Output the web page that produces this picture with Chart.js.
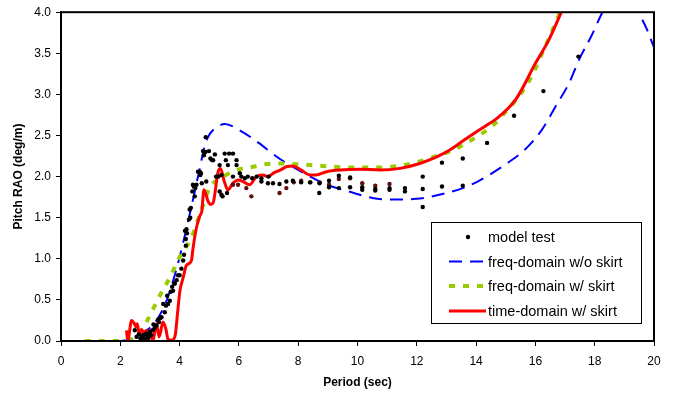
<!DOCTYPE html>
<html><head><meta charset="utf-8">
<script src="https://cdn.jsdelivr.net/npm/chart.js@4.4.1/dist/chart.umd.min.js"></script>
<style>html,body{margin:0;padding:0;background:#fff;}#wrap{width:683px;height:402px;position:relative;}</style>
</head><body><div id="wrap"><canvas id="c" width="683" height="402"></canvas></div>
<script>
// ---- data ----
const modelT = [2.49,2.55,2.62,2.68,2.72,2.77,2.8,2.83,2.87,2.91,2.95,3.0,3.04,3.09,3.12,3.16,3.22,3.27,3.31,3.35,3.39,3.45,3.5,3.54,3.58,3.61,3.67,3.7,3.75,3.78,3.82,3.84,3.9,3.95,4.0,4.06,4.12,4.15,4.18,4.21,4.21,4.23,4.25,4.32,4.34,4.36,4.38,4.43,4.45,4.48,4.51,4.53,4.57,4.62,4.68,4.7,4.72,4.75,4.79,4.82,4.87,4.88,4.9,4.99,5.04,5.1,5.13,5.19,5.23,5.31,5.35,5.35,5.41,5.41,5.45,5.52,5.56,5.6,5.63,5.67,5.8,5.8,5.92,5.92,6.03,6.08,6.2,6.3,6.45,6.6,6.76,6.76,6.98,7.0,7.15,7.37,7.6,7.82,8.1,8.4,8.71,8.72,9.04,9.04,9.37,9.37,9.75,9.75,10.16,10.16,10.6,10.6,11.08,11.08,11.6,11.6,12.2,12.2,12.2,12.85,12.85,13.55,13.55,14.37,15.28,16.27,17.45];
const modelR = [0.13,0.05,0.08,0.03,0.05,0.07,0.02,0.03,0.09,0.07,0.04,0.11,0.07,0.13,0.2,0.16,0.19,0.26,0.23,0.28,0.29,0.45,0.35,0.43,0.55,0.45,0.49,0.6,0.66,0.61,0.7,0.7,0.74,0.8,0.8,0.88,0.98,1.05,1.34,1.16,1.24,1.36,1.31,1.48,1.6,1.5,1.62,1.82,1.9,1.88,1.76,1.86,1.9,2.06,2.06,2.02,2.04,1.92,2.31,2.26,2.3,2.48,1.94,2.31,2.22,2.2,2.2,2.27,2.0,2.0,2.14,1.82,2.02,1.78,1.76,2.28,2.2,1.8,2.14,2.28,2.28,2.0,2.2,2.14,2.04,2.0,1.98,2.0,1.98,2.0,1.98,1.94,1.92,2.0,1.92,1.91,1.94,1.95,1.93,1.93,1.8,1.92,1.95,1.87,2.01,1.86,1.99,1.87,1.87,1.84,1.85,1.83,1.86,1.84,1.86,1.82,2.0,1.85,1.63,2.17,1.88,2.22,1.89,2.41,2.74,3.04,3.46];
const model2T = [5.8,5.97,6.25,6.42,7.37,7.6,7.85,8.1,8.41,8.72,9.04,9.37,9.75,10.16,10.6,11.08];
const model2R = [1.9,1.9,1.86,1.76,1.8,1.86,1.93,1.95,1.93,1.93,1.9,1.97,1.98,1.92,1.89,1.91];

const freqNoSkirtT = [2.0,2.5,2.9,3.22,3.56,3.77,4.0,4.34,4.68,4.85,5.02,5.25,5.52,6.04,6.63,7.36,8.1,8.97,9.7,10.5,11.25,12.0,12.54,13.0,13.55,14.0,14.44,15.12,15.68,16.24,16.69,17.14,17.47,17.9,18.26,18.6,18.9,19.2,19.49,19.75,20.0];
const freqNoSkirtR = [0.0,0.03,0.13,0.25,0.49,0.72,1.02,1.54,2.1,2.38,2.52,2.6,2.64,2.56,2.42,2.22,2.06,1.9,1.82,1.74,1.72,1.73,1.76,1.8,1.86,1.93,2.02,2.18,2.34,2.58,2.86,3.14,3.42,3.72,4.0,4.22,4.3,4.22,3.99,3.8,3.57];

const freqSkirtT = [0.8,2.0,2.4,2.7,2.88,3.39,3.67,4.0,4.4,4.72,5.02,5.35,5.92,6.48,6.87,7.37,7.95,8.83,9.7,10.6,11.41,12.05,12.42,13.32,14.0,14.56,15.12,15.57,15.9,16.24,16.5,16.75,16.85];
const freqSkirtR = [0.0,0.0,0.03,0.12,0.23,0.59,0.77,1.02,1.26,1.58,1.87,1.97,2.08,2.12,2.15,2.16,2.15,2.13,2.11,2.11,2.13,2.18,2.22,2.34,2.48,2.62,2.84,3.04,3.24,3.51,3.72,3.93,4.02];

const timeSkirtT = [2.21,2.25,2.38,2.46,2.53,2.57,2.64,2.72,2.8,2.87,2.94,3.0,3.1,3.22,3.31,3.44,3.54,3.61,3.73,3.84,3.95,4.01,4.12,4.23,4.4,4.45,4.57,4.68,4.75,4.82,4.96,5.05,5.13,5.3,5.38,5.5,5.63,5.8,5.97,6.14,6.36,6.59,6.81,6.98,7.15,7.4,7.6,7.82,8.1,8.4,8.6,8.96,9.41,10.08,10.76,11.43,12.1,12.67,13.1,13.66,14.33,14.67,15.34,16.02,16.45,16.91];
const timeSkirtR = [0.13,0.0,0.25,0.22,0.17,0.21,0.09,0.14,0.09,0.13,0.01,0.13,0.0,0.21,0.05,0.23,0.14,0.02,0.01,0.05,0.41,0.61,0.77,0.92,0.98,1.12,1.38,1.52,1.58,1.84,1.7,1.66,1.68,2.06,2.1,1.95,1.84,1.92,1.96,1.94,1.9,2.0,2.02,2.0,2.04,2.08,2.12,2.13,2.08,2.02,2.02,2.06,2.08,2.09,2.08,2.1,2.16,2.24,2.32,2.46,2.62,2.7,2.94,3.39,3.66,4.03];

const seriesLabels = ['model test','freq-domain w/o skirt','freq-domain w/ skirt','time-domain w/ skirt'];
const xTickValues = [0,2,4,6,8,10,12,14,16,18,20];
const yTickValues = [0,0.5,1,1.5,2,2.5,3,3.5,4];
const xTitle = 'Period (sec)';
const yTitle = 'Pitch RAO (deg/m)';

const pts = (xs, ys) => xs.map((x, i) => ({x, y: ys[i]}));
const FONT = "'Liberation Sans', Arial, sans-serif";

const legendPlugin = {
  id: 'boxLegend',
  afterDatasetsDraw(chart) {
    const ctx = chart.ctx;
    const ca = chart.chartArea;
    ctx.save();
    ctx.strokeStyle = '#000'; ctx.lineWidth = 2; ctx.setLineDash([]);
    ctx.strokeRect(ca.left, ca.top, ca.right - ca.left, ca.bottom - ca.top);
    // legend box
    const bx = 431, by = 222, bw = 210, bh = 101;
    ctx.fillStyle = '#fff'; ctx.fillRect(bx, by, bw, bh);
    ctx.lineWidth = 1; ctx.strokeStyle = '#000';
    ctx.strokeRect(bx + 0.5, by + 0.5, bw, bh);
    const rows = [237, 261.5, 286, 311];
    const order = [0, 2, 3, 4];
    ctx.font = '14.5px ' + FONT; ctx.textBaseline = 'middle'; ctx.fillStyle = '#000';
    order.forEach((di, r) => {
      const ds = chart.data.datasets[di];
      const y = rows[r];
      if (!ds.showLine) {
        ctx.beginPath(); ctx.fillStyle = ds.backgroundColor;
        ctx.arc(468, y, 2.2, 0, Math.PI * 2); ctx.fill();
      } else {
        ctx.beginPath(); ctx.strokeStyle = ds.borderColor; ctx.lineWidth = ds.borderWidth;
        ctx.setLineDash(ds.borderDash || []);
        ctx.moveTo(449, y); ctx.lineTo(486, y); ctx.stroke(); ctx.setLineDash([]);
      }
      ctx.fillStyle = '#000';
      ctx.fillText(ds.label, 488, y + 1);
    });
    ctx.restore();
  }
};

new Chart(document.getElementById('c'), {
  type: 'scatter',
  data: {
    datasets: [
      {label: seriesLabels[0], data: pts(modelT, modelR), backgroundColor: '#000', borderColor: '#000', pointRadius: 2.2, pointBorderWidth: 0, showLine: false, order: 0},
      {label: 'model test (dark)', data: pts(model2T, model2R), backgroundColor: '#5e1010', borderColor: '#5e1010', pointRadius: 2.2, pointBorderWidth: 0, showLine: false, order: 0},
      {label: seriesLabels[1], data: pts(freqNoSkirtT, freqNoSkirtR), showLine: true, borderColor: '#0000FF', backgroundColor: '#0000FF', borderWidth: 2, borderDash: [13, 8], pointRadius: 0, cubicInterpolationMode: 'monotone', order: 3},
      {label: seriesLabels[2], data: pts(freqSkirtT, freqSkirtR), showLine: true, borderColor: '#99CC00', backgroundColor: '#99CC00', borderWidth: 4, borderDash: [6, 8], pointRadius: 0, cubicInterpolationMode: 'monotone', order: 2},
      {label: seriesLabels[3], data: pts(timeSkirtT, timeSkirtR), showLine: true, borderColor: '#FF0000', backgroundColor: '#FF0000', borderWidth: 3, pointRadius: 0, cubicInterpolationMode: 'monotone', order: 1}
    ]
  },
  options: {
    responsive: false, animation: false, devicePixelRatio: 1,
    layout: {padding: {left: 0, right: 29, top: 8, bottom: 0}},
    plugins: {legend: {display: false}, tooltip: {enabled: false}},
    scales: {
      x: {
        type: 'linear', min: 0, max: 20,
        afterBuildTicks: s => { s.ticks = xTickValues.map(v => ({value: v})); },
        afterFit: s => { s.height = 61; },
        ticks: {color: '#000', font: {family: FONT, size: 12}, padding: 8, maxRotation: 0, callback: v => String(v)},
        grid: {display: true, drawOnChartArea: false, drawTicks: true, tickLength: 5, color: '#000', lineWidth: 1},
        border: {display: true, color: '#000', width: 2},
        title: {display: true, text: xTitle, color: '#000', font: {family: FONT, size: 12, weight: 'bold'}, padding: {top: 0, bottom: 12}}
      },
      y: {
        type: 'linear', min: 0, max: 4,
        afterBuildTicks: s => { s.ticks = yTickValues.map(v => ({value: v})); },
        afterFit: s => { s.width = 61; },
        ticks: {color: '#000', font: {family: FONT, size: 12}, padding: 5, callback: v => Number(v).toFixed(1)},
        grid: {display: true, drawOnChartArea: false, drawTicks: true, tickLength: 5, color: '#000', lineWidth: 1},
        border: {display: true, color: '#000', width: 2},
        title: {display: true, text: yTitle, color: '#000', font: {family: FONT, size: 12, weight: 'bold'}, padding: {top: 11, bottom: 0}}
      }
    }
  },
  plugins: [legendPlugin]
});
</script></body></html>
